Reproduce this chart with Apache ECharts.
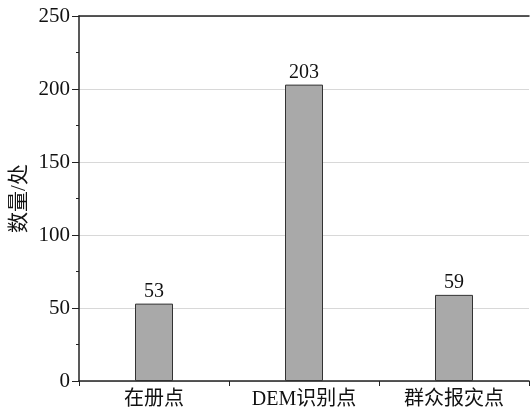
<!DOCTYPE html>
<html><head><meta charset="utf-8">
<script src="https://cdn.jsdelivr.net/npm/echarts@6/dist/echarts.min.js"></script>
<style>html,body{margin:0;padding:0;background:#fff}#c{width:530px;height:415px}</style>
</head><body><div id="c"></div>
<script>
const categories = ['在册点', 'DEM识别点', '群众报灾点'];
const values = [53, 203, 59];
const yTicks = [0, 50, 100, 150, 200, 250];
const yName = '数量/处';

const font = '"Liberation Serif", "Times New Roman", "Noto Sans CJK SC", serif';
const chart = echarts.init(document.getElementById('c'));
chart.setOption({
  animation: false,
  grid: { left: 79, right: 1, top: 16, bottom: 34, containLabel: false, outerBoundsMode: 'none' },
  xAxis: [{
    type: 'category', data: categories,
    axisLine: { lineStyle: { color: '#222', width: 1.5 } },
    axisTick: { show: true, length: 5, alignWithLabel: false, lineStyle: { color: '#222' } },
    axisLabel: { color: '#111', fontFamily: font, fontSize: 20, margin: 9 }
  }, {
    type: 'category', data: categories, position: 'top',
    axisLine: { lineStyle: { color: '#222', width: 1.5 } },
    axisTick: { show: false }, axisLabel: { show: false }
  }],
  yAxis: {
    type: 'value', min: yTicks[0], max: yTicks[yTicks.length - 1], interval: 50,
    name: yName, nameLocation: 'middle', nameGap: 49, nameRotate: 90, nameMoveOverlap: false,
    nameTextStyle: { color: '#111', fontFamily: font, fontSize: 21 },
    axisLine: { show: true, lineStyle: { color: '#222', width: 1.5 } },
    axisTick: { show: true, length: 7, lineStyle: { color: '#222' } },
    minorTick: { show: true, splitNumber: 2, length: 3, lineStyle: { color: '#222' } },
    axisLabel: { color: '#111', fontFamily: font, fontSize: 21, margin: 9 },
    splitLine: { show: true, lineStyle: { color: '#d8d8d8', width: 1 } }
  },
  series: [{
    type: 'bar', data: values, barWidth: 38, xAxisIndex: 0,
    itemStyle: { color: '#a9a9a9', borderColor: '#333', borderWidth: 1 },
    label: { show: true, position: 'top', distance: 2, color: '#111', fontFamily: font, fontSize: 20 }
  }]
});
</script></body></html>
